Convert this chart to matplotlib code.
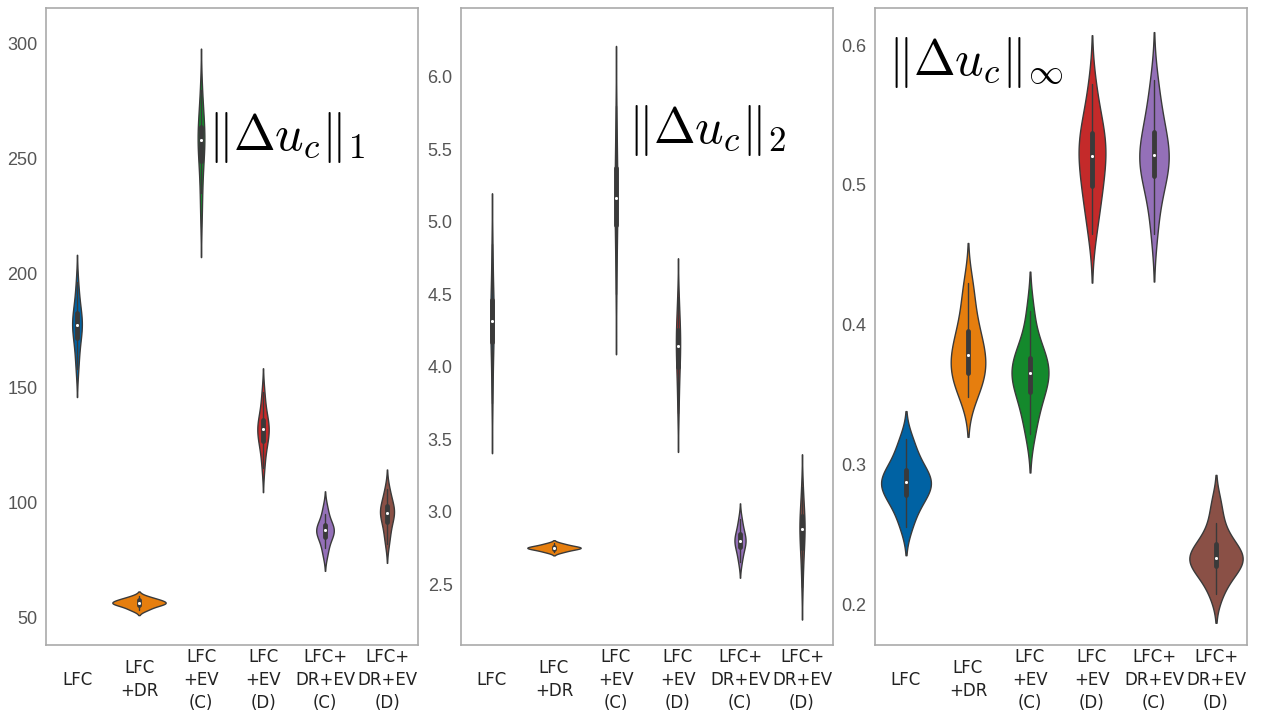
import matplotlib
matplotlib.use("Agg")
import matplotlib.pyplot as plt
import seaborn as sns
import pandas as pd

# categories (x tick labels)
methods = ["LFC", "LFC\n+DR", "LFC\n+EV\n(C)", "LFC\n+EV\n(D)", "LFC+\nDR+EV\n(C)", "LFC+\nDR+EV\n(D)"]
colors = ["#0062a3", "#e67e0e", "#14892c", "#c42a2a", "#9470b8", "#8a5046"]

# samples, ||du_c||_1
norm1 = [
    [158, 163, 168, 171, 174, 176, 177, 178, 179, 181, 183, 186, 190, 196],
    [53, 54, 55, 55.5, 56, 56, 56.5, 57, 57.5, 58, 59],
    [225, 235, 243, 249, 253, 256, 258, 259, 261, 264, 268, 272, 280],
    [115, 121, 125, 127, 129, 131, 132, 133, 134, 136, 138, 143, 148],
    [77, 80, 83, 85, 86, 87, 88, 88.5, 89, 90, 92, 95, 98],
    [82, 86, 89, 92, 94, 95, 96, 97, 98, 100, 103, 106],
]
# ||du_c||_2
norm2 = [
    [3.75, 3.9, 4.05, 4.15, 4.22, 4.27, 4.3, 4.33, 4.36, 4.4, 4.48, 4.55, 4.7, 4.85],
    [2.72, 2.73, 2.74, 2.745, 2.75, 2.75, 2.755, 2.76, 2.77, 2.78],
    [4.5, 4.7, 4.85, 4.95, 5.05, 5.1, 5.15, 5.18, 5.22, 5.3, 5.4, 5.5, 5.6, 5.8],
    [3.68, 3.82, 3.92, 4.0, 4.05, 4.1, 4.14, 4.18, 4.22, 4.25, 4.3, 4.38, 4.48],
    [2.65, 2.7, 2.74, 2.77, 2.79, 2.8, 2.81, 2.83, 2.86, 2.9, 2.95],
    [2.48, 2.62, 2.7, 2.75, 2.8, 2.85, 2.88, 2.9, 2.93, 2.97, 3.0, 3.08, 3.17],
]
# ||du_c||_inf
norminf = [
    [0.255, 0.265, 0.272, 0.277, 0.28, 0.283, 0.286, 0.288, 0.29, 0.293, 0.297, 0.302, 0.31, 0.318],
    [0.348, 0.354, 0.36, 0.364, 0.368, 0.372, 0.376, 0.38, 0.385, 0.39, 0.397, 0.405, 0.418, 0.43],
    [0.322, 0.335, 0.345, 0.352, 0.357, 0.362, 0.365, 0.368, 0.372, 0.376, 0.382, 0.39, 0.41],
    [0.465, 0.48, 0.49, 0.497, 0.505, 0.512, 0.518, 0.523, 0.528, 0.533, 0.538, 0.545, 0.555, 0.572],
    [0.465, 0.485, 0.497, 0.505, 0.51, 0.515, 0.52, 0.522, 0.526, 0.532, 0.54, 0.548, 0.558, 0.575],
    [0.207, 0.217, 0.223, 0.227, 0.23, 0.232, 0.233, 0.235, 0.238, 0.243, 0.248, 0.258, 0.272],
]

titles = [r"$\Vert\Delta u_c\Vert_1$", r"$\Vert\Delta u_c\Vert_2$", r"$\Vert\Delta u_c\Vert_\infty$"]
ylims = [(37.8, 315.7), (2.079, 6.476), (0.1707, 0.6265)]
yticks = [[50, 100, 150, 200, 250, 300],
          [2.5, 3.0, 3.5, 4.0, 4.5, 5.0, 5.5, 6.0],
          [0.2, 0.3, 0.4, 0.5, 0.6]]
title_pos = [(0.435, 0.796), (0.449, 0.808), (0.035, 0.914)]

sns.set_style("white")
plt.rcParams["mathtext.fontset"] = "cm"

fig = plt.figure(figsize=(12.62, 7.21), dpi=100)
lefts = [46 / 1262, 461 / 1262, 875 / 1262]

for i, samples in enumerate([norm1, norm2, norminf]):
    ax = fig.add_axes([lefts[i], 1 - 645 / 721, 372 / 1262, 637 / 721])
    rows = []
    for m, vals in zip(methods, samples):
        for v in vals:
            rows.append((m, v))
    df = pd.DataFrame(rows, columns=["method", "value"])
    sns.violinplot(data=df, x="method", y="value", hue="method", order=methods,
                   hue_order=methods, palette=colors, saturation=1, legend=False,
                   common_norm=True, inner="box", linewidth=1, linecolor="#3a3a3a",
                   width=0.86,
                   inner_kws=dict(box_width=3.5, whis_width=1, marker="o", markersize=1.5),
                   ax=ax)
    ax.set_ylim(*ylims[i])
    ax.set_xlim(-0.5, 5.5)
    ax.set_yticks(yticks[i])
    ax.set_xlabel("")
    ax.set_ylabel("")
    ax.tick_params(axis="y", labelsize=13, labelcolor="#555555", length=0, pad=6)
    ax.tick_params(axis="x", labelsize=12, labelcolor="#222222", length=0, pad=25)
    for lab in ax.get_yticklabels():
        lab.set_fontfamily("Liberation Sans")
    for lab in ax.get_xticklabels():
        lab.set_verticalalignment("center")
        lab.set_linespacing(1.35)
    for sp in ax.spines.values():
        sp.set_color("#aaaaaa")
        sp.set_linewidth(1.2)
    ax.text(title_pos[i][0], title_pos[i][1], titles[i], transform=ax.transAxes,
            fontsize=36, ha="left", va="center", color="black")

fig.savefig("out.png", dpi=100)
